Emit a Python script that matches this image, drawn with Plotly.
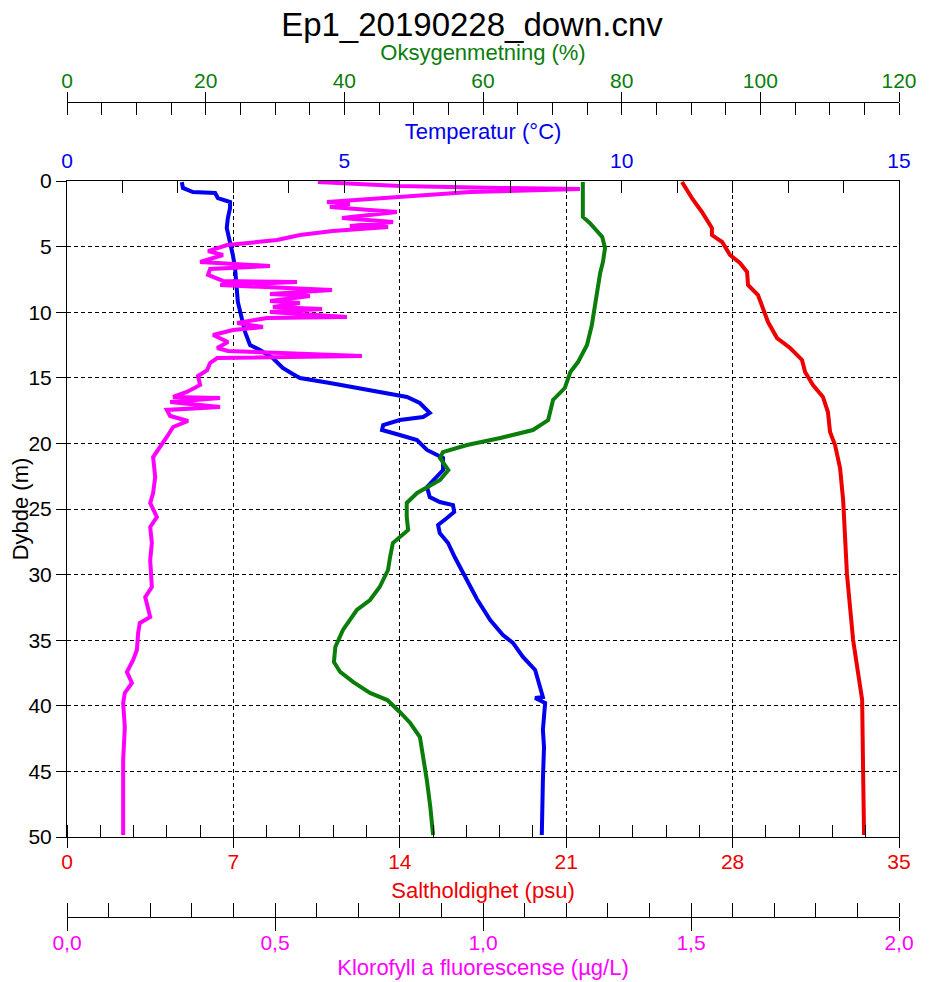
# CTD-profil: temperatur, oksygenmetning, saltholdighet og klorofyll mot dybde

import plotly.graph_objects as go

tittel = "Ep1_20190228_down.cnv"

# Temperatur (°C)
dybde_temp = [0.08, 0.53, 0.84, 0.91, 1.30, 1.60, 2.06, 2.82, 3.58, 4.65, 5.64, 6.63, 7.93, 9.22,
              10.44, 11.51, 12.50, 12.88, 13.49, 14.25, 14.71, 15.02, 15.40, 15.93, 16.46, 16.92,
              17.68, 17.99, 18.22, 18.60, 18.98, 19.36, 19.74, 20.50, 20.88, 21.11, 22.03, 22.56,
              23.32, 24.09, 24.47, 24.70, 25.23, 25.69, 26.22, 26.83, 27.59, 28.66, 29.88, 31.86,
              33.46, 34.60, 35.21, 36.28, 37.27, 38.57, 39.33, 39.41, 39.79, 41.84, 43.14, 45.66, 49.85]
temperatur = [2.07, 2.09, 2.27, 2.67, 2.72, 2.94, 2.94, 2.90, 2.88, 2.94, 2.99, 3.03, 3.05, 3.08,
              3.15, 3.21, 3.30, 3.48, 3.71, 3.89, 4.07, 4.20, 4.74, 5.41, 6.13, 6.36,
              6.54, 6.42, 6.00, 5.70, 5.68, 6.00, 6.31, 6.49, 6.67, 6.78, 6.78, 6.67,
              6.49, 6.54, 6.72, 6.96, 6.98, 6.85, 6.69, 6.72, 6.87, 6.99, 7.14, 7.39,
              7.63, 7.86, 8.04, 8.22, 8.44, 8.53, 8.58, 8.44, 8.62, 8.58, 8.60, 8.58, 8.56]

# Oksygenmetning (%)
dybde_oks = [0.08, 2.74, 3.20, 4.27, 5.11, 6.17, 7.01, 9.07, 10.98, 12.50, 13.80, 14.56, 15.78,
             16.69, 18.22, 18.98, 19.59, 20.12, 20.66, 21.11, 22.03, 22.79, 23.78, 24.54, 25.61,
             26.60, 27.59, 28.66, 29.65, 30.95, 31.94, 32.70, 34.22, 35.52, 36.66, 37.42, 38.19,
             39.02, 39.56, 40.47, 41.31, 42.38, 43.60, 45.66, 47.71, 49.85]
oksygen = [74.4, 74.4, 75.4, 77.2, 77.6, 77.3, 76.9, 76.3, 75.7, 75.0, 73.7, 72.6, 71.8,
           70.1, 69.4, 67.2, 62.5, 57.7, 54.2, 53.8, 55.0, 53.8, 50.5, 49.0, 49.0,
           49.2, 47.0, 46.6, 46.3, 45.1, 43.7, 41.8, 39.8, 38.7, 38.5, 39.4, 41.3,
           43.7, 46.2, 48.0, 49.5, 50.9, 51.3, 51.9, 52.4, 52.8]

# Saltholdighet (psu)
dybde_salt = [0.08, 0.69, 1.30, 2.36, 3.58, 4.12, 4.65, 5.64, 6.25, 6.94, 7.93, 8.69, 9.68, 10.75,
              11.97, 12.73, 13.64, 14.56, 15.55, 16.46, 17.61, 19.13, 20.12, 21.88, 24.31, 29.95,
              34.98, 38.80, 39.56, 44.97, 49.85]
salt = [25.87, 26.08, 26.29, 26.71, 27.13, 27.13, 27.56, 27.89, 28.31, 28.61, 28.65, 29.07, 29.28, 29.49,
        29.87, 30.42, 30.92, 31.05, 31.38, 31.80, 32.01, 32.10, 32.31, 32.52, 32.65, 32.81,
        33.07, 33.36, 33.45, 33.49, 33.53]

# Klorofyll a fluorescens (µg/L)
dybde_klf = [0.08, 0.38, 0.53, 0.61, 0.84, 1.22, 1.60, 1.75, 1.98, 2.36, 2.82, 3.13, 3.43, 3.51,
             3.81, 4.12, 4.50, 4.88, 5.34, 5.64, 6.17, 6.48, 6.71, 7.16, 7.62, 7.70, 7.93, 8.31,
             8.61, 8.77, 9.15, 9.30, 9.60, 9.76, 9.98, 10.37, 10.44, 10.82, 11.13, 11.36, 11.74,
             12.27, 12.73, 12.96, 13.34, 13.49, 13.87, 14.41, 14.86, 15.55, 16.08, 16.46, 16.54,
             16.84, 17.23, 17.45, 17.91, 18.29, 18.75, 19.51, 20.27, 21.04, 22.56, 23.78, 24.54,
             25.61, 26.37, 27.59, 28.89, 30.95, 31.71, 33.23, 33.69, 34.45, 35.75, 36.51, 37.42,
             38.26, 39.02, 39.79, 41.62, 44.13, 46.65, 49.85]
klorofyll = [0.603, 0.800, 1.041, 1.233, 0.969, 0.800, 0.625, 0.680, 0.632, 0.793, 0.661, 0.784, 0.680, 0.772,
             0.639, 0.560, 0.505, 0.385, 0.339, 0.375, 0.320, 0.488, 0.344, 0.339, 0.375, 0.553, 0.368, 0.637,
             0.488, 0.584, 0.488, 0.560, 0.495, 0.613, 0.488, 0.673, 0.481, 0.409, 0.471, 0.399, 0.351,
             0.387, 0.361, 0.387, 0.709, 0.361, 0.344, 0.337, 0.315, 0.320, 0.288, 0.255, 0.368,
             0.248, 0.368, 0.240, 0.248, 0.291, 0.255, 0.240, 0.224, 0.207, 0.212, 0.207, 0.200,
             0.216, 0.200, 0.204, 0.200, 0.204, 0.188, 0.200, 0.175, 0.171, 0.168, 0.159, 0.144,
             0.156, 0.139, 0.135, 0.139, 0.135, 0.135, 0.135]

FONT = "Liberation Sans, Arial, sans-serif"
GRONN = "#0b7d0b"
BLAA = "#0000ee"
ROD = "#ee0000"
LILLA = "#ff00ff"

fig = go.Figure()
fig.add_trace(go.Scatter(x=salt, y=dybde_salt, xaxis="x", yaxis="y", mode="lines",
                         line=dict(color=ROD, width=4)))
fig.add_trace(go.Scatter(x=temperatur, y=dybde_temp, xaxis="x2", yaxis="y", mode="lines",
                         line=dict(color=BLAA, width=4)))
fig.add_trace(go.Scatter(x=oksygen, y=dybde_oks, xaxis="x3", yaxis="y", mode="lines",
                         line=dict(color=GRONN, width=4)))
fig.add_trace(go.Scatter(x=klorofyll, y=dybde_klf, xaxis="x4", yaxis="y", mode="lines",
                         line=dict(color=LILLA, width=4)))

# the page body adds 8 px, so the figure is 936x974 and the paper spans 98..922 px on the page
y_dom = [(922 - 837) / 824, (922 - 181) / 824]
pos_oks = (922 - 102) / 824
pos_klf = (922 - 917) / 824

tittelfont = 22

fig.update_layout(
    width=936, height=974,
    margin=dict(l=59, r=45, t=90, b=60, autoexpand=False),
    paper_bgcolor="white", plot_bgcolor="white",
    showlegend=False,
    separators=", ",
    font=dict(family=FONT, size=21, color="black"),
    title=dict(text=tittel, x=464 / 936, xanchor="center", y=1 - 16 / 974, yanchor="middle",
               font=dict(size=33, color="black")),
    yaxis=dict(
        domain=y_dom, range=[50, 0], tick0=0, dtick=5, automargin=False,
        ticks="outside", ticklen=10, tickcolor="black",
        showline=True, linecolor="black", mirror=True,
        showgrid=True, gridcolor="black", griddash="4px,3px", gridwidth=1,
        zeroline=False,
        title=dict(text="Dybde (m)", font=dict(size=tittelfont), standoff=14),
    ),
    # Saltholdighet, bunn av plottet
    xaxis=dict(
        range=[0, 35], tick0=0, dtick=7, anchor="y", side="bottom", automargin=False,
        ticks="outside", ticklen=10, tickcolor="black",
        minor=dict(tick0=0, dtick=1.4, ticks="inside", ticklen=12, tickcolor="black", showgrid=False),
        showline=True, linecolor="black",
        showgrid=True, gridcolor="black", griddash="4px,3px", gridwidth=1,
        zeroline=False,
        ticklabelstandoff=-4,
        tickfont=dict(color=ROD),
        title=dict(text="Saltholdighet (psu)", font=dict(color=ROD, size=tittelfont), standoff=10),
    ),
    # Temperatur, topp av plottet
    xaxis2=dict(
        range=[0, 15], tick0=0, dtick=5, anchor="y", side="top", overlaying="x", automargin=False,
        ticks="inside", ticklen=12, tickcolor="black",
        minor=dict(tick0=0, dtick=1, ticks="inside", ticklen=12, tickcolor="black", showgrid=False),
        showline=True, linecolor="black", showgrid=False, zeroline=False,
        ticklabelstandoff=4,
        tickfont=dict(color=BLAA),
        title=dict(text="Temperatur (°C)", font=dict(color=BLAA, size=tittelfont), standoff=2),
    ),
    # Oksygenmetning, fri akse over plottet
    xaxis3=dict(
        range=[0, 120], tick0=0, dtick=20, anchor="free", position=pos_oks, side="top",
        overlaying="x", automargin=False,
        ticks="outside", ticklen=10, tickcolor="black",
        minor=dict(tick0=0, dtick=5, ticks="inside", ticklen=12, tickcolor="black", showgrid=False),
        showline=True, linecolor="black", showgrid=False, zeroline=False,
        ticklabelstandoff=-4,
        tickfont=dict(color=GRONN),
        title=dict(text="Oksygenmetning (%)", font=dict(color=GRONN, size=tittelfont), standoff=0),
    ),
    # Klorofyll, fri akse under plottet
    xaxis4=dict(
        range=[0, 2], tick0=0, dtick=0.5, tickformat=".1f", anchor="free", position=pos_klf,
        side="bottom", overlaying="x", automargin=False,
        ticks="outside", ticklen=13, tickcolor="black",
        minor=dict(tick0=0, dtick=0.1, ticks="inside", ticklen=14, tickcolor="black", showgrid=False),
        showline=True, linecolor="black", showgrid=False, zeroline=False,
        ticklabelstandoff=-6,
        tickfont=dict(color=LILLA),
        title=dict(text="Klorofyll a fluorescense (µg/L)", font=dict(color=LILLA, size=tittelfont),
                   standoff=6),
    ),
    # store streker som krysser aksen
    xaxis5=dict(
        range=[0, 120], tick0=0, dtick=20, anchor="free", position=pos_oks, side="top",
        overlaying="x", automargin=False,
        ticks="inside", ticklen=14, tickcolor="black", showticklabels=False,
        showline=False, showgrid=False, zeroline=False,
    ),
    xaxis6=dict(
        range=[0, 2], tick0=0, dtick=0.5, anchor="free", position=pos_klf, side="bottom",
        overlaying="x", automargin=False,
        ticks="inside", ticklen=14, tickcolor="black", showticklabels=False,
        showline=False, showgrid=False, zeroline=False,
    ),
)

fig.write_html("out.html")
